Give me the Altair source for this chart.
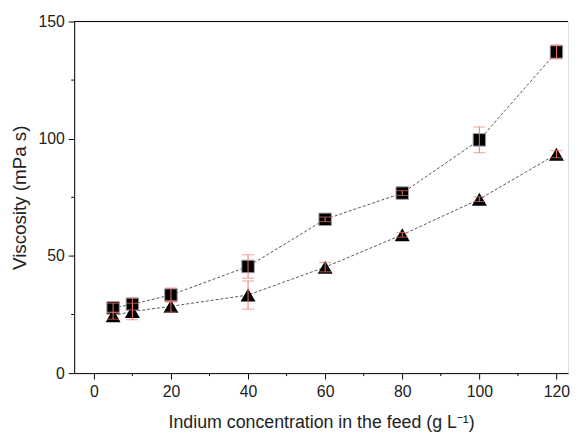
import altair as alt
import pandas as pd

conc = [5, 10, 20, 40, 60, 80, 100, 120]
visc_sq = [27.8, 29.4, 33.3, 45.5, 65.6, 76.8, 99.5, 137.0]
err_sq = [2.0, 2.5, 3.0, 5.0, 1.0, 1.0, 5.5, 3.0]
visc_tri = [24.5, 26.3, 28.5, 33.3, 45.2, 59.0, 74.2, 93.4]
err_tri = [1.5, 3.5, 2.5, 6.0, 2.0, 1.0, 1.0, 1.5]
series = ["square", "triangle"]

x_major = [0, 20, 40, 60, 80, 100, 120]
x_minor = [10, 30, 50, 70, 90, 110]
y_major = [0, 50, 100, 150]
y_minor = [25, 75, 125]

rows = []
for s, vals, errs in [(series[0], visc_sq, err_sq), (series[1], visc_tri, err_tri)]:
    for c, v, e in zip(conc, vals, errs):
        rows.append({"conc": c, "visc": v, "lo": v - e, "hi": v + e, "series": s})
df = pd.DataFrame(rows)

W, H = 500, 356
FONT = "Liberation Sans"
ERR = "#EE7468"
XT = "Indium concentration in the feed (g L⁻¹)"
YT = "Viscosity (mPa s)"

xscale = alt.Scale(domain=[-5.1, 123], nice=False, zero=False)
yscale = alt.Scale(domain=[0, 150], nice=False)

xaxis = alt.Axis(
    values=x_major, tickSize=6,
    grid=False, domainColor="black", tickColor="black", labelColor="#222222",
    labelFontSize=16, labelFont=FONT, labelPadding=5,
    titleFontSize=18, titleFont=FONT, titleFontWeight="normal", titleColor="#222222",
    titlePadding=14,
)
yaxis = alt.Axis(
    values=y_major, tickSize=6,
    grid=False, domainColor="black", tickColor="black", labelColor="#222222",
    labelFontSize=16, labelFont=FONT, labelPadding=4,
    titleFontSize=19, titleFont=FONT, titleFontWeight="normal", titleColor="#222222",
    titlePadding=9,
)


def X(field):
    return alt.X(field, scale=xscale, axis=xaxis, title=XT)


def Y(field):
    return alt.Y(field, scale=yscale, axis=yaxis, title=YT)


base = alt.Chart(df)

lines = base.mark_line(color="#555555", strokeDash=[3, 2], strokeWidth=1).encode(
    x=X("conc:Q"), y=Y("visc:Q"), detail="series:N"
)
squares = base.transform_filter(alt.datum.series == "square").mark_point(
    shape="square", filled=True, size=160, color="black", stroke="#a0a0a0", strokeWidth=1, opacity=1
).encode(x=X("conc:Q"), y=Y("visc:Q"))
triangles = base.transform_filter(alt.datum.series == "triangle").mark_point(
    shape="triangle-up", filled=True, size=230, color="black", opacity=1
).encode(x=X("conc:Q"), y=Y("visc:Q"))

err_rule = base.mark_rule(color=ERR, strokeWidth=1).encode(
    x=X("conc:Q"), y=Y("lo:Q"), y2="hi:Q"
)
cap_lo = base.mark_tick(color=ERR, orient="horizontal", size=12, thickness=1).encode(
    x=X("conc:Q"), y=Y("lo:Q")
)
cap_hi = base.mark_tick(color=ERR, orient="horizontal", size=12, thickness=1).encode(
    x=X("conc:Q"), y=Y("hi:Q")
)

ymin = alt.Chart(pd.DataFrame({"v": y_minor})).mark_rule(color="black", strokeWidth=1, clip=False).encode(
    y=Y("v:Q"), x=alt.value(-3), x2=alt.value(0)
)
xmin = alt.Chart(pd.DataFrame({"v": x_minor})).mark_rule(color="black", strokeWidth=1, clip=False).encode(
    x=X("v:Q"), y=alt.value(H), y2=alt.value(H + 3)
)

top_border = alt.Chart(pd.DataFrame({"a": [0]})).mark_rule(color="black", strokeWidth=1).encode(
    x=alt.value(0), x2=alt.value(W), y=alt.value(0)
)

chart = alt.layer(
    lines, squares, triangles, err_rule, cap_lo, cap_hi, ymin, xmin, top_border
).properties(
    width=W, height=H,
    autosize=alt.AutoSizeParams(type="none"),
    padding={"left": 67, "top": 11, "right": 3, "bottom": 59},
).configure_view(stroke=None).configure(background="white")

chart.save("out.html", embed_options={"renderer": "svg", "actions": False})
